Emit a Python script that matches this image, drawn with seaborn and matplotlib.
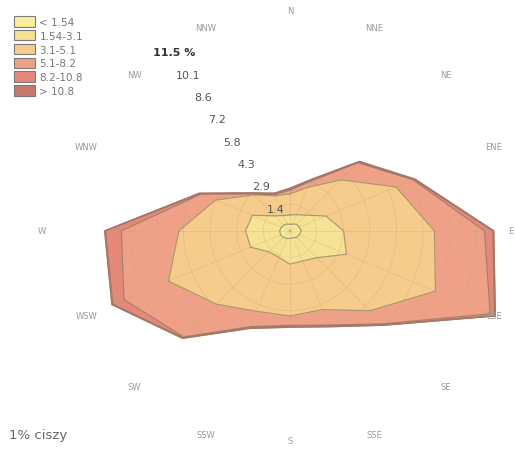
import numpy as np
import seaborn as sns
import matplotlib.pyplot as plt
from matplotlib.patches import Patch

sns.set_theme(style="white")

# wind rose data (% of time) per direction and speed class
directions = ["N", "NNE", "NE", "ENE", "E", "ESE", "SE", "SSE",
              "S", "SSW", "SW", "WSW", "W", "WNW", "NW", "NNW"]
classes = ["< 1.54", "1.54-3.1", "3.1-5.1", "5.1-8.2", "8.2-10.8", "> 10.8"]
lt_154 = [0.35, 0.40, 0.50, 0.55, 0.60, 0.55, 0.50, 0.40, 0.40, 0.45, 0.50, 0.55, 0.55, 0.50, 0.45, 0.40]
s154_31 = [0.51, 0.55, 0.70, 1.55, 2.30, 2.75, 1.55, 1.36, 1.40, 1.10, 1.10, 1.75, 1.85, 1.70, 0.70, 0.50]
s31_51 = [1.14, 1.60, 2.70, 4.10, 4.90, 5.20, 4.05, 2.84, 2.80, 3.15, 4.00, 4.80, 3.60, 2.15, 1.60, 1.15]
s51_82 = [0.20, 0.35, 1.30, 1.00, 2.70, 3.20, 1.00, 0.90, 0.50, 0.90, 2.50, 2.60, 3.10, 0.85, 0.07, 0.07]
s82_108 = [0.05, 0.05, 0.05, 0.05, 0.45, 0.25, 0.05, 0.05, 0.05, 0.05, 0.05, 0.65, 0.85, 0.05, 0.03, 0.03]
gt_108 = [0.05, 0.05, 0.05, 0.05, 0.05, 0.05, 0.05, 0.05, 0.05, 0.05, 0.05, 0.05, 0.05, 0.05, 0.05, 0.05]
ring_labels = ["1.4", "2.9", "4.3", "5.8", "7.2", "8.6", "10.1", "11.5 %"]
calm_text = "1% ciszy"

colors = sns.color_palette(["#f8ee9e", "#f6e294", "#f5cc8c", "#eea187", "#e4887a", "#c47a6c"])

fig = plt.figure(figsize=(5.15, 4.52), dpi=100)
ax = fig.add_axes([0.124, -0.013, 0.878, 1.0], projection="polar")
ax.set_theta_zero_location("N")
ax.set_theta_direction(-1)
rmax = 12.2
ax.set_ylim(0, rmax)

theta = np.deg2rad(np.arange(16) * 22.5)
theta_c = np.append(theta, theta[0])
layers = np.cumsum(np.array([lt_154, s154_31, s31_51, s51_82, s82_108, gt_108]), axis=0)

outer = None
for i in range(len(classes) - 1, -1, -1):
    r = np.append(layers[i], layers[i][0])
    patch, = ax.fill(theta_c, r, color=colors[i], zorder=1 + (5 - i) * 0.01)
    edge = "#9c7868" if i >= 3 else "#a08c68"
    ax.plot(theta_c, r, color=edge, lw=0.9, alpha=0.85, zorder=2.5)
    if outer is None:
        outer = patch

# faint grid, only visible inside the rose
ticks = [11.5 / 8 * k for k in range(1, 9)]
tt = np.linspace(0, 2 * np.pi, 300)
grid = []
for rv in ticks:
    grid += ax.plot(tt, [rv] * len(tt), color="#c9a070", lw=0.6, alpha=0.3, zorder=2)
for t in theta:
    grid += ax.plot([t, t], [0, rmax], color="#c9a070", lw=0.6, alpha=0.3, zorder=2)
for g in grid:
    g.set_clip_path(outer)

ax.grid(False)
ax.set_xticks([])
ax.set_yticks([])
ax.spines["polar"].set_visible(False)
ax.set_facecolor("none")

# ring labels
for rv, lab in zip(ticks, ring_labels):
    ax.text(np.deg2rad(-33), rv, lab, ha="center", va="center",
            fontsize=8, color="#333" if "%" in lab else "#555",
            fontweight="bold" if "%" in lab else "normal", zorder=4)

# direction labels
for t, d in zip(theta, directions):
    rr = {"W": 13.4, "S": 11.3}.get(d, 11.9)
    ax.text(t, rr, d, ha="center", va="center", fontsize=6, color="#999", zorder=4)

handles = [Patch(facecolor=c, edgecolor="#7a7a7a", lw=0.8) for c in colors]
fig.legend(handles, classes, loc="upper left", bbox_to_anchor=(0.028, 0.962),
           frameon=False, fontsize=7.5, handlelength=2.0, handleheight=1.15,
           labelspacing=0.3, handletextpad=0.4, borderaxespad=0, borderpad=0,
           labelcolor="#777")

fig.text(0.018, 0.022, calm_text, fontsize=9.5, color="#666", ha="left", va="bottom")

fig.savefig("out.png", dpi=100)
